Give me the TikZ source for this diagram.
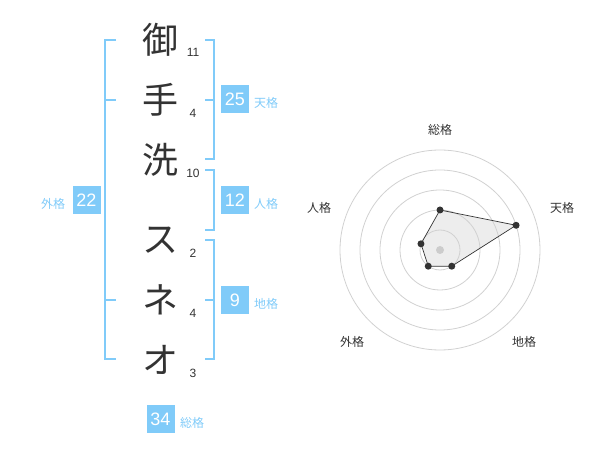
\documentclass[tikz,border=0pt]{standalone}
\usepackage{fontspec}
\setmainfont{Noto Sans CJK JP}
\newfontfamily\digitfont{Liberation Sans}
\definecolor{kakublue}{HTML}{80CBF9}
\definecolor{inkgray}{HTML}{333333}
\tikzset{
  kanji/.style={text=inkgray, inner sep=0pt, font=\fontsize{36}{36}\selectfont},
  strokes/.style={text=inkgray, inner sep=0pt, font=\digitfont\fontsize{12}{12}\selectfont},
  kakubox/.style={fill=kakublue, text=white, inner sep=0pt, minimum width=28pt, minimum height=28pt, font=\digitfont\fontsize{18}{18}\selectfont},
  kakulabel/.style={text=kakublue, inner sep=0pt, font=\fontsize{12}{12}\selectfont},
  bracket/.style={draw=kakublue, line width=2pt},
  ring/.style={draw=black!18, line width=0.8pt},
  axislabel/.style={text=inkgray, inner sep=0pt, font=\fontsize{12}{12}\selectfont},
  dot/.style={circle, fill=inkgray, inner sep=0pt, minimum size=7pt},
}
\begin{document}
\begin{tikzpicture}[x=1pt, y=-1pt]
    \useasboundingbox (0,0) rectangle (600,470);

    % Draw the name, one character per row
    \node[kanji] (c1) at (160,40) {御};
    \node[kanji] (c2) at (160,100) {手};
    \node[kanji] (c3) at (160,160) {洗};
    \node[kanji] (c4) at (160,240) {ス};
    \node[kanji] (c5) at (160,300) {ネ};
    \node[kanji] (c6) at (160,360) {オ};

    % Draw stroke counts
    \node[strokes] (n1) at (193,52) {11};
    \node[strokes] (n2) at (193,113) {4};
    \node[strokes] (n3) at (193,173) {10};
    \node[strokes] (n4) at (193,253) {2};
    \node[strokes] (n5) at (193,313) {4};
    \node[strokes] (n6) at (193,373) {3};

    % Draw brackets
    \draw[bracket] (116,40) -- (105,40) -- (105,359) -- (116,359); % outer
    \draw[bracket] (105,100) -- (116,100);
    \draw[bracket] (105,300) -- (116,300);
    \draw[bracket] (205,40) -- (214,40) -- (214,159) -- (205,159); % heaven
    \draw[bracket] (214,100) -- (205,100);
    \draw[bracket] (205,170) -- (214,170) -- (214,230) -- (205,230); % person
    \draw[bracket] (205,240) -- (214,240) -- (214,359) -- (205,359); % earth
    \draw[bracket] (214,300) -- (205,300);

    % Draw totals
    \node[kakubox] (gaikaku) at (86.5,200) {22};
    \node[kakulabel] (gailabel) at (53,204) {外格};
    \node[kakubox] (tenkaku) at (235,99) {25};
    \node[kakulabel] (tenlabel) at (266,103) {天格};
    \node[kakubox] (jinkaku) at (235,200) {12};
    \node[kakulabel] (jinlabel) at (266,204) {人格};
    \node[kakubox] (chikaku) at (235,300) {9};
    \node[kakulabel] (chilabel) at (266,304) {地格};
    \node[kakubox] (soukaku) at (160.5,419) {34};
    \node[kakulabel] (soulabel) at (192,423) {総格};

    % Draw radar chart
    \begin{scope}[shift={(440,250)}]
        \coordinate (sou) at (-90:40);
        \coordinate (ten) at (-18:80);
        \coordinate (chi) at (54:20);
        \coordinate (gai) at (126:20);
        \coordinate (jin) at (-162:20);
        \fill[black!7] (sou) -- (ten) -- (chi) -- (gai) -- (jin) -- cycle;
        \foreach \r in {20,40,60,80,100}
            \draw[ring] (0,0) circle (\r pt);
        \node[circle, fill=black!20, inner sep=0pt, minimum size=8pt] (center) at (0,0) {};
        \draw[inkgray, line width=0.7pt] (sou) -- (ten) -- (chi) -- (gai) -- (jin) -- cycle;
        \foreach \p in {sou,ten,chi,gai,jin}
            \node[dot] (dot-\p) at (\p) {};

        % Draw axis labels
        \node[axislabel] (ax-sou) at (0,-120) {総格};
        \node[axislabel] (ax-ten) at (122,-42) {天格};
        \node[axislabel] (ax-chi) at (84,92) {地格};
        \node[axislabel] (ax-gai) at (-88,92) {外格};
        \node[axislabel] (ax-jin) at (-121,-42) {人格};
    \end{scope}
\end{tikzpicture}
\end{document}
